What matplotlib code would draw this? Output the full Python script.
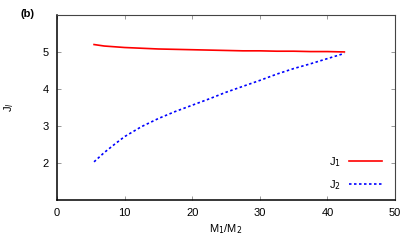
import matplotlib
matplotlib.use("Agg")
import matplotlib.pyplot as plt

# mass ratio M1/M2 and the two quantum numbers
ratio = [5.5, 7, 8.5, 10, 12.5, 15, 17.5, 20, 22.5, 25, 27.5, 30, 32.5, 35, 37.5, 40, 42.5]
j1 = [5.20, 5.16, 5.14, 5.12, 5.10, 5.08, 5.07, 5.06, 5.05, 5.04, 5.03, 5.03, 5.02, 5.02, 5.01, 5.01, 5.00]
j2 = [2.03, 2.28, 2.50, 2.71, 2.98, 3.20, 3.39, 3.56, 3.73, 3.91, 4.07, 4.23, 4.40, 4.55, 4.68, 4.82, 4.96]

plt.rcParams['font.family'] = ['Liberation Sans', 'DejaVu Sans']
plt.rcParams['font.size'] = 8

fig = plt.figure(figsize=(4.15, 2.49), dpi=100)
ax = fig.add_axes([0.137, 0.197, 0.815, 0.743])

ax.plot(ratio, j1, color='red', linewidth=1.2, label=r'J$_1$')
ax.plot(ratio, j2, color='blue', linewidth=1.2, linestyle=(0, (1.5, 1.5)), label=r'J$_2$')

ax.set_xlim(0, 50)
ax.set_ylim(1, 6)
ax.set_xticks([0, 10, 20, 30, 40, 50])
ax.set_yticks([2, 3, 4, 5])
ax.tick_params(direction='in', top=True, right=True, length=3, width=0.6,
               color='#888888', labelsize=8, pad=6)
for side in ['left', 'bottom']:
    ax.spines[side].set_linewidth(1.1)
for side in ['top', 'right']:
    ax.spines[side].set_linewidth(0.8)
    ax.spines[side].set_color('#444444')

ax.set_xlabel(r'M$_1$/M$_2$', fontsize=8, labelpad=3)
ax.set_ylabel(r'J$_l$', fontsize=8, labelpad=19)

leg = ax.legend(loc='lower right', frameon=False, markerfirst=False,
                handlelength=2.9, fontsize=8, labelspacing=0.8,
                bbox_to_anchor=(0.99, -0.01))

fig.text(0.05, 0.93, '(b)', fontsize=8, fontweight='bold')

fig.savefig('out.png', dpi=100)
